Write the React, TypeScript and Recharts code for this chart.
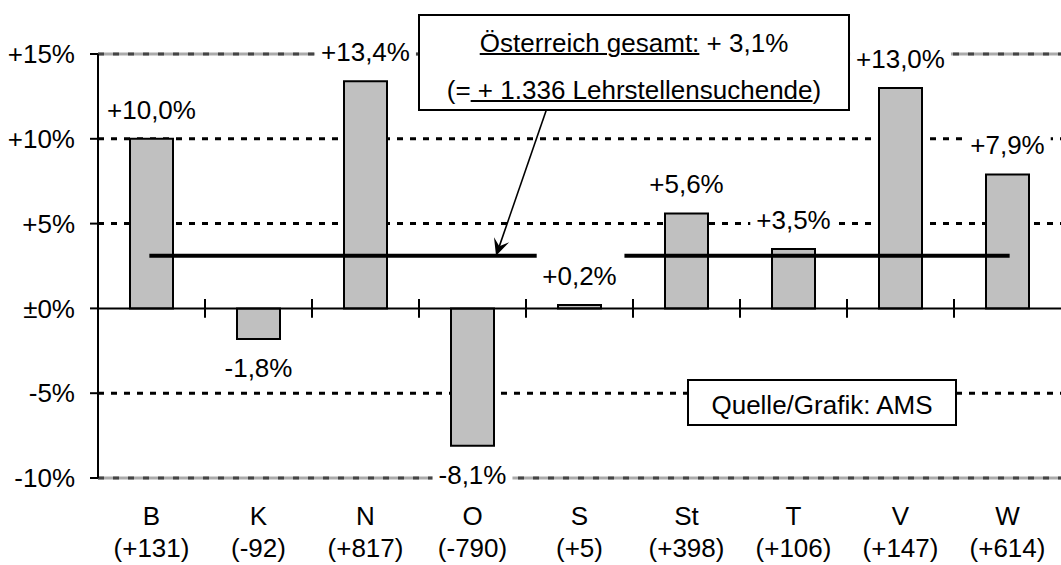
import React from 'react';
import { BarChart, Bar, XAxis, YAxis, ReferenceLine, LabelList } from 'recharts';

// Lehrstellensuchende: Veränderung gegenüber Vorjahr nach Bundesland
const regions = ['B', 'K', 'N', 'O', 'S', 'St', 'T', 'V', 'W'];
const absoluteChange = ['+131', '-92', '+817', '-790', '+5', '+398', '+106', '+147', '+614'];
const percentChange = [10.0, -1.8, 13.4, -8.1, 0.2, 5.6, 3.5, 13.0, 7.9];
const yTicks = [-10, -5, 0, 5, 10, 15];
const dashedGrid = [10, 5, -5];
const greyGrid = [15, -10];
const austriaTotal = 3.1;

const data = regions.map((region, i) => ({
  region,
  change: absoluteChange[i],
  value: percentChange[i],
}));

// annotation geometry in category-slot units (0 = B, 8 = W) on a hidden numeric axis
const totalSegments = [
  [-0.02, 3.6],
  [4.42, 8.02],
];
const arrowFrom = { x: 3.69, y: 11.7 };
const arrowTo = { x: 3.22, y: austriaTotal };
const boundaries = regions.slice(1).map((_, i) => i + 0.5);

const FONT = "'Liberation Sans', Arial, sans-serif";
const FS = 26;

const fmtPct = (v: number) => (v > 0 ? '+' : '') + v.toFixed(1).replace('.', ',') + '%';
const fmtTick = (v: number) => (v === 0 ? '±0%' : v > 0 ? `+${v}%` : `${v}%`);

const glyphW: Record<string, number> = { '+': 0.584, '-': 0.333, ',': 0.278, '%': 0.889 };
const textWidth = (s: string) => [...s].reduce((w, c) => w + (glyphW[c] ?? 0.556), 0) * FS;

const ValueLabel = (props: any) => {
  const { x, y, width, height, value } = props;
  const cx = x + width / 2;
  const top = Math.min(y, y + height);
  const bottom = Math.max(y, y + height);
  const text = fmtPct(value);
  const baseline = value >= 0 ? top - 20 : bottom + 38;
  const w = textWidth(text);
  return (
    <g>
      <rect x={cx - w / 2 - 6} y={baseline - 24} width={w + 12} height={31} fill="#fff" />
      <text x={cx} y={baseline} textAnchor="middle" fontSize={FS} fontFamily={FONT} fill="#000">
        {text}
      </text>
    </g>
  );
};

const RegionTick = (props: any) => {
  const { x, y, payload } = props;
  const i = regions.indexOf(payload.value);
  return (
    <text x={x} y={y} textAnchor="middle" fontSize={FS} fontFamily={FONT} fill="#000">
      <tspan x={x} dy={47}>{payload.value}</tspan>
      <tspan x={x} dy={32}>({absoluteChange[i]})</tspan>
    </text>
  );
};

const Arrow = (props: any) => {
  const { x1, y1, x2, y2 } = props;
  const len = Math.hypot(x2 - x1, y2 - y1);
  const ux = (x2 - x1) / len;
  const uy = (y2 - y1) / len;
  const nx = -uy;
  const ny = ux;
  const L = 17;
  const W = 8;
  const N = 10;
  const head = [
    [x2, y2],
    [x2 - ux * L + nx * W, y2 - uy * L + ny * W],
    [x2 - ux * N, y2 - uy * N],
    [x2 - ux * L - nx * W, y2 - uy * L - ny * W],
  ]
    .map((p) => p.join(','))
    .join(' ');
  return (
    <g>
      <line x1={x1} y1={y1} x2={x2 - ux * N} y2={y2 - uy * N} stroke="#000" strokeWidth={1.6} />
      <polygon points={head} fill="#000" />
    </g>
  );
};

const slotIndex = (d: { region: string }) => regions.indexOf(d.region);

export default function App() {
  return (
    <div style={{ position: 'relative', width: 1061, height: 565, fontFamily: FONT, background: '#fff' }}>
      <style>{'body{margin:0}'}</style>
      <BarChart width={1061} height={565} data={data} margin={{ top: 54, right: 0, bottom: 0, left: 0 }}>
        <XAxis
          dataKey="region"
          height={87}
          axisLine={false}
          tickLine={false}
          tickSize={0}
          tickMargin={0}
          tick={<RegionTick />}
          interval={0}
        />
        <XAxis xAxisId="num" dataKey={slotIndex} type="number" domain={[-0.5, 8.5]} allowDataOverflow hide />
        <YAxis
          width={98}
          domain={[-10, 15]}
          ticks={yTicks}
          tickFormatter={fmtTick}
          axisLine={{ stroke: '#000', strokeWidth: 2 }}
          tickLine={{ stroke: '#000', strokeWidth: 2 }}
          tickSize={8}
          tickMargin={15}
          tick={{ fill: '#000', fontSize: FS, fontFamily: FONT }}
          allowDataOverflow
        />

        {dashedGrid.map((v) => (
          <ReferenceLine key={`g${v}`} y={v} stroke="#000" strokeWidth={3} strokeDasharray="6 7" zIndex={-50} />
        ))}
        {greyGrid.map((v) => (
          <ReferenceLine key={`s${v}`} y={v} stroke="#ababab" strokeWidth={3} zIndex={-50} />
        ))}
        {greyGrid.map((v) => (
          <ReferenceLine key={`d${v}`} y={v} stroke="#454545" strokeWidth={3} strokeDasharray="6 9" zIndex={-49} />
        ))}

        <Bar dataKey="value" fill="#c0c0c0" stroke="#000" strokeWidth={2} barSize={43} isAnimationActive={false}>
          <LabelList dataKey="value" content={<ValueLabel />} />
        </Bar>

        <ReferenceLine y={0} stroke="#000" strokeWidth={2} zIndex={450} />
        {boundaries.map((b) => (
          <ReferenceLine
            key={`b${b}`}
            xAxisId="num"
            segment={[{ x: b, y: -0.55 }, { x: b, y: 0.55 }]}
            stroke="#000"
            strokeWidth={2}
            zIndex={450}
          />
        ))}
        {totalSegments.map(([from, to]) => (
          <ReferenceLine
            key={`t${from}`}
            xAxisId="num"
            segment={[{ x: from, y: austriaTotal }, { x: to, y: austriaTotal }]}
            stroke="#000"
            strokeWidth={4}
            zIndex={450}
          />
        ))}
        <ReferenceLine xAxisId="num" segment={[arrowFrom, arrowTo]} shape={<Arrow />} zIndex={460} />
      </BarChart>

      {/* annotation box */}
      <div
        style={{
          position: 'absolute',
          left: 418,
          top: 14,
          width: 432,
          height: 97,
          border: '2px solid #000',
          boxSizing: 'border-box',
          background: '#fff',
        }}
      />
      <div style={{ position: 'absolute', left: 418, top: 28, width: 432, height: 30, lineHeight: '30px', fontSize: FS, textAlign: 'center' }}>
        <span style={{ textDecoration: 'underline', textDecorationThickness: '2px' }}>Österreich gesamt:</span> + 3,1%
      </div>
      <div style={{ position: 'absolute', left: 418, top: 75, width: 432, height: 30, lineHeight: '30px', fontSize: FS, textAlign: 'center' }}>
        (=<span style={{ textDecoration: 'underline', textDecorationThickness: '2px' }}> + 1.336 Lehrstellensuchende</span>)
      </div>

      {/* source box */}
      <div
        style={{
          position: 'absolute',
          left: 687,
          top: 379,
          width: 270,
          height: 47,
          border: '2px solid #000',
          boxSizing: 'border-box',
          background: '#fff',
        }}
      />
      <div style={{ position: 'absolute', left: 687, top: 390, width: 270, height: 30, lineHeight: '30px', fontSize: FS, textAlign: 'center' }}>
        Quelle/Grafik: AMS
      </div>
    </div>
  );
}
